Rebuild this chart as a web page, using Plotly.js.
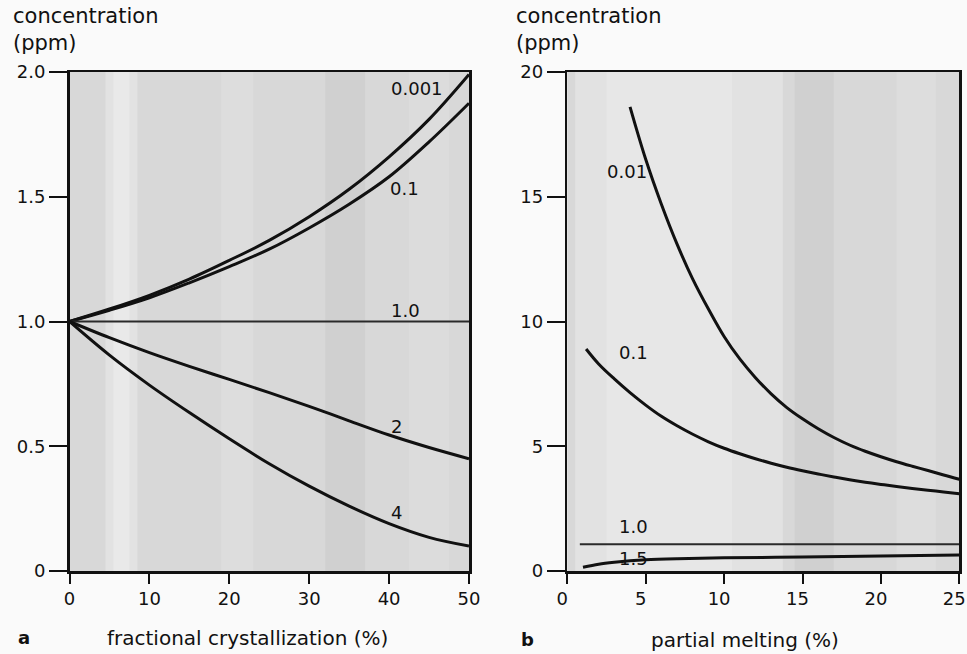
<!DOCTYPE html>
<html>
<head>
<meta charset="utf-8">
<script src="https://cdn.plot.ly/plotly-3.0.1.min.js"></script>
<style>html,body{margin:0;padding:0;background:#fafafa;}#chart{width:967px;height:654px;}</style>
</head>
<body>
<div id="chart"></div>
<script>
// ---- Panel a: fractional crystallization (%) ----
const fcX = [0, 5, 10, 15, 20, 25, 30, 35, 40, 45, 50];
const fcNames = ['0.001', '0.1', '1.0', '2', '4'];
const fcD0001 = [1.0, 1.05, 1.105, 1.17, 1.245, 1.325, 1.42, 1.53, 1.66, 1.81, 1.99];
const fcD01   = [1.0, 1.045, 1.095, 1.155, 1.22, 1.29, 1.375, 1.47, 1.58, 1.72, 1.875];
const fcD1    = [1.0, 1.0, 1.0, 1.0, 1.0, 1.0, 1.0, 1.0, 1.0, 1.0, 1.0];
const fcD2    = [1.0, 0.935, 0.875, 0.82, 0.768, 0.715, 0.66, 0.602, 0.545, 0.495, 0.45];
const fcD4    = [1.0, 0.865, 0.745, 0.635, 0.53, 0.43, 0.34, 0.26, 0.19, 0.135, 0.10];
const fcTickVals = [0, 10, 20, 30, 40, 50];
const fcYTickVals = [0, 0.5, 1, 1.5, 2];
const fcYTickText = ['0', '0.5', '1.0', '1.5', '2.0'];

// ---- Panel b: partial melting (%) ----
const pmX001 = [4, 5, 6, 7, 8, 9, 10, 11, 12, 13, 14, 15, 16, 17, 18, 19, 20, 21, 22, 23, 24, 25];
const pmD001 = [18.6, 16.5, 14.7, 13.1, 11.7, 10.5, 9.4, 8.5, 7.75, 7.1, 6.55, 6.1, 5.7, 5.35, 5.05, 4.8, 4.58, 4.38, 4.2, 4.03, 3.85, 3.68];
const pmX01 = [1.2, 2, 3, 4, 5, 6, 7, 8, 9, 10, 11, 12, 13, 14, 15, 16, 17, 18, 19, 20, 21, 22, 23, 24, 25];
const pmD01 = [8.9, 8.3, 7.7, 7.15, 6.65, 6.2, 5.82, 5.48, 5.18, 4.92, 4.7, 4.5, 4.32, 4.16, 4.02, 3.89, 3.77, 3.66, 3.56, 3.47, 3.39, 3.31, 3.24, 3.17, 3.1];
const pmX1 = [0.8, 25];
const pmD1 = [1.07, 1.07];
const pmX15 = [1, 2, 3, 4, 5, 7, 10, 15, 20, 25];
const pmD15 = [0.15, 0.27, 0.35, 0.41, 0.45, 0.49, 0.53, 0.56, 0.6, 0.64];
const pmNames = ['0.01', '0.1', '1.0', '1.5'];
const pmTickVals = [0, 5, 10, 15, 20, 25];
const pmYTickVals = [0, 5, 10, 15, 20];

const ink = '#111111';
const FONT = 'DejaVu Sans, sans-serif';

function curve(x, y, xa, ya, w, c) {
  return {x: x, y: y, xaxis: xa, yaxis: ya, type: 'scatter', mode: 'lines',
          line: {color: c || ink, width: w || 3, shape: 'spline', smoothing: 1},
          hoverinfo: 'skip', showlegend: false};
}

const data = [
  curve(fcX, fcD0001, 'x', 'y'),
  curve(fcX, fcD01, 'x', 'y'),
  curve(fcX, fcD1, 'x', 'y', 2, '#2a2a2a'),
  curve(fcX, fcD2, 'x', 'y'),
  curve(fcX, fcD4, 'x', 'y'),
  curve(pmX001, pmD001, 'x2', 'y2'),
  curve(pmX01, pmD01, 'x2', 'y2'),
  curve(pmX1, pmD1, 'x2', 'y2', 2, '#2a2a2a'),
  curve(pmX15, pmD15, 'x2', 'y2')
];

const axisCommon = {
  showline: true, mirror: true, linecolor: ink, linewidth: 2.5,
  ticks: 'outside', tickcolor: ink, tickwidth: 2,
  showgrid: false, zeroline: false, fixedrange: true,
  ticklabeloverflow: 'allow',
  tickfont: {family: FONT, size: 18, color: ink}
};

function lbl(text, x, y, xref, yref, extra) {
  return Object.assign({text: text, x: x, y: y, xref: xref, yref: yref, showarrow: false,
    font: {family: FONT, size: 18, color: ink}}, extra || {});
}

const fcLabelPos = [[43.5, 1.935], [41.9, 1.533], [42.0, 1.045], [40.9, 0.58], [40.9, 0.236]];
const pmLabelPos = [[3.8, 16.0], [4.2, 8.75], [4.2, 1.8], [4.2, 0.5]];

const annotations = [];
fcNames.forEach((n, i) => annotations.push(lbl(n, fcLabelPos[i][0], fcLabelPos[i][1], 'x', 'y')));
pmNames.forEach((n, i) => annotations.push(lbl(n, pmLabelPos[i][0], pmLabelPos[i][1], 'x2', 'y2')));

const yTitleFont = {family: FONT, size: 21, color: ink};
const xTitleFont = {family: FONT, size: 20, color: ink};
const yTitleText = 'concentration<br>(ppm)';
annotations.push(lbl(yTitleText, 11 / 967, 1.086, 'paper', 'paper', {xanchor: 'left', yanchor: 'middle', align: 'left', font: yTitleFont}));
annotations.push(lbl(yTitleText, 514 / 967, 1.086, 'paper', 'paper', {xanchor: 'left', yanchor: 'middle', align: 'left', font: yTitleFont}));
annotations.push(lbl('fractional crystallization (%)', 247 / 967, -0.134, 'paper', 'paper', {xanchor: 'center', yanchor: 'middle', font: xTitleFont}));
annotations.push(lbl('partial melting (%)', 745 / 967, -0.138, 'paper', 'paper', {xanchor: 'center', yanchor: 'middle', font: xTitleFont}));
annotations.push(lbl('<b>a</b>', 24 / 967, -0.134, 'paper', 'paper', {xanchor: 'center', yanchor: 'middle'}));
annotations.push(lbl('<b>b</b>', 527 / 967, -0.138, 'paper', 'paper', {xanchor: 'center', yanchor: 'middle'}));

// soft scan-like vertical bands in the plotting areas (decoration only)
function band(xref, x0, x1, col) {
  return {type: 'rect', xref: xref, yref: 'paper', x0: x0, x1: x1, y0: 0, y1: 1,
          fillcolor: col, line: {width: 0}, layer: 'below'};
}
const shapes = [
  band('x domain', 0.09, 0.17, 'rgba(255,255,255,0.25)'),
  band('x domain', 0.11, 0.15, 'rgba(255,255,255,0.25)'),
  band('x domain', 0.38, 0.46, 'rgba(255,255,255,0.15)'),
  band('x domain', 0.64, 0.74, 'rgba(0,0,0,0.035)'),
  band('x domain', 0.85, 0.95, 'rgba(255,255,255,0.12)'),
  band('x2 domain', 0.02, 0.55, 'rgba(255,255,255,0.25)'),
  band('x2 domain', 0.1, 0.42, 'rgba(255,255,255,0.2)'),
  band('x2 domain', 0.58, 0.68, 'rgba(0,0,0,0.035)'),
  band('x2 domain', 0.84, 0.94, 'rgba(255,255,255,0.15)')
];

const layout = {
  width: 967, height: 654,
  margin: {l: 0, r: 0, t: 72, b: 83},
  paper_bgcolor: '#fafafa',
  plot_bgcolor: '#d8d8d8',
  showlegend: false,
  xaxis: Object.assign({}, axisCommon, {domain: [69.5 / 967, 469 / 967], range: [0, 50],
    tickvals: fcTickVals, ticklen: 10, anchor: 'y'}),
  yaxis: Object.assign({}, axisCommon, {domain: [0, 1], range: [0, 2],
    tickvals: fcYTickVals, ticktext: fcYTickText, ticklen: 18, anchor: 'x'}),
  xaxis2: Object.assign({}, axisCommon, {domain: [567.3 / 967, 959.3 / 967], range: [0, 25],
    tickvals: pmTickVals, ticklen: 10, anchor: 'y2', ticklabelshift: -5}),
  yaxis2: Object.assign({}, axisCommon, {domain: [0, 1], range: [0, 20],
    tickvals: pmYTickVals, ticklen: 18, anchor: 'x2'}),
  annotations: annotations,
  shapes: shapes
};

Plotly.newPlot('chart', data, layout, {displayModeBar: false, staticPlot: true});
</script>
</body>
</html>
